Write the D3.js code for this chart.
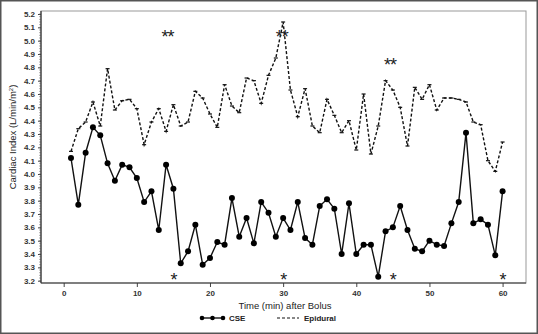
<!DOCTYPE html>
<html><head><meta charset="utf-8">
<script src="https://cdn.jsdelivr.net/npm/d3@7"></script>
<style>
html,body{margin:0;padding:0;background:#fff;}
svg{display:block;font-family:"Liberation Sans",Arial,sans-serif;}
</style></head>
<body>
<svg id="chart" width="538" height="334"></svg>
<script>
const times = d3.range(1, 61);
const cse = [4.12,3.77,4.16,4.35,4.29,4.08,3.95,4.07,4.05,3.97,
             3.79,3.87,3.58,4.07,3.89,3.33,3.42,3.62,3.32,3.37,
             3.49,3.47,3.82,3.53,3.67,3.48,3.79,3.71,3.53,3.67,
             3.58,3.79,3.52,3.47,3.76,3.81,3.74,3.40,3.78,3.40,
             3.47,3.47,3.23,3.57,3.60,3.76,3.58,3.44,3.42,3.50,
             3.47,3.46,3.63,3.79,4.31,3.63,3.66,3.62,3.39,3.87];
const epidural = [4.17,4.34,4.39,4.54,4.36,4.79,4.48,4.55,4.56,4.49,
                  4.22,4.39,4.49,4.32,4.52,4.36,4.39,4.62,4.57,4.45,
                  4.35,4.67,4.51,4.46,4.72,4.70,4.53,4.74,4.87,5.14,
                  4.63,4.43,4.64,4.36,4.31,4.56,4.44,4.31,4.40,4.18,
                  4.60,4.15,4.36,4.70,4.63,4.50,4.21,4.65,4.56,4.67,
                  4.48,4.57,4.57,4.56,4.54,4.39,4.37,4.10,4.02,4.24];
const xTicks = [0,10,20,30,40,50,60];
const yTicks = d3.range(32, 53).map(v => v / 10);
const sigLabels = ["**","**","**","*","*","*","*"];
const sigTimes = [14.2,29.8,44.6,15,30,45,60];
const sigValues = [5.055,5.055,4.845,3.235,3.235,3.235,3.235];
const seriesNames = ["CSE","Epidural"];

const svg = d3.select("#chart");
const W = 538, H = 334;
const m = {left:41, right:12, top:11, bottom:51};
const x = d3.scaleLinear().domain([-3.1, 63.2]).range([m.left, W - m.right]);
const y = d3.scaleLinear().domain([3.2, 5.2]).range([280.7, 14]);

// outer border
svg.append("rect").attr("x",0.75).attr("y",0.75).attr("width",W-1.5).attr("height",H-1.5)
  .attr("fill","#fff").attr("stroke","#555").attr("stroke-width",1.5);

// plot frame (light)
const bottomY = 283;
svg.append("rect").attr("x",m.left).attr("y",m.top).attr("width",W-m.right-m.left).attr("height",bottomY-m.top)
  .attr("fill","none").attr("stroke","#999").attr("stroke-width",1);

// y axis
const yAxis = d3.axisLeft(y).tickValues(yTicks).tickFormat(d3.format(".1f")).tickSize(3).tickPadding(3);
const gy = svg.append("g").attr("transform",`translate(${m.left},0)`).call(yAxis);
gy.select(".domain").remove();
gy.selectAll("text").attr("font-size",8).attr("font-weight","bold").attr("fill","#333");
gy.selectAll("line").attr("stroke","#444");
// minor ticks
const minor = d3.range(160, 261).map(v => v / 50);
svg.append("g").selectAll("line").data(minor).join("line")
  .attr("x1",m.left-2).attr("x2",m.left).attr("y1",d=>y(d)).attr("y2",d=>y(d))
  .attr("stroke","#777").attr("stroke-width",0.6);
svg.append("line").attr("x1",m.left).attr("x2",m.left).attr("y1",m.top).attr("y2",bottomY)
  .attr("stroke","#333").attr("stroke-width",1.2);

// x axis
const xAxis = d3.axisBottom(x).tickValues(xTicks).tickSize(4).tickPadding(3);
const gx = svg.append("g").attr("transform",`translate(0,${bottomY})`).call(xAxis);
gx.select(".domain").remove();
gx.selectAll("text").attr("font-size",8).attr("font-weight","bold").attr("fill","#333");
gx.selectAll("line").attr("stroke","#444");
svg.append("line").attr("x1",m.left).attr("x2",W-m.right).attr("y1",bottomY).attr("y2",bottomY)
  .attr("stroke","#333").attr("stroke-width",1.2);

// axis titles
svg.append("text").attr("x",285).attr("y",309).attr("text-anchor","middle")
  .attr("font-size",9.5).attr("fill","#222").text("Time (min) after Bolus");
svg.append("text").attr("transform","translate(16,137) rotate(-90)").attr("text-anchor","middle")
  .attr("font-size",9.5).attr("fill","#222")
  .html('Cardiac Index (L/min/m<tspan baseline-shift="super" font-size="6">2</tspan>)');

const line = d3.line().x((d,i)=>x(times[i])).y(d=>y(d));

// epidural
svg.append("path").datum(epidural).attr("d",line).attr("fill","none")
  .attr("stroke","#111").attr("stroke-width",1.4).attr("stroke-dasharray","3,2");
svg.append("g").selectAll("line").data(epidural).join("line")
  .attr("x1",(d,i)=>x(times[i])-2).attr("x2",(d,i)=>x(times[i])+2)
  .attr("y1",d=>y(d)).attr("y2",d=>y(d)).attr("stroke","#111").attr("stroke-width",1.2);

// CSE
svg.append("path").datum(cse).attr("d",line).attr("fill","none")
  .attr("stroke","#111").attr("stroke-width",1.4);
svg.append("g").selectAll("circle").data(cse).join("circle")
  .attr("cx",(d,i)=>x(times[i])).attr("cy",d=>y(d)).attr("r",3).attr("fill","#000");

// significance marks
svg.append("g").selectAll("text").data(sigLabels).join("text")
  .attr("x",(d,i)=>x(sigTimes[i])).attr("y",(d,i)=>y(sigValues[i])+10)
  .attr("text-anchor","middle").attr("font-size",18).attr("letter-spacing",-1)
  .attr("fill","#222").text(d=>d);

// legend
const lg = svg.append("g");
lg.append("line").attr("x1",201).attr("x2",224).attr("y1",318).attr("y2",318).attr("stroke","#111").attr("stroke-width",1.4);
lg.selectAll("circle").data([202,212.5,223]).join("circle").attr("cx",d=>d).attr("cy",318).attr("r",2.3).attr("fill","#000");
lg.append("text").attr("x",229).attr("y",321).attr("font-size",8).attr("font-weight","bold").attr("fill","#222").text(seriesNames[0]);
lg.append("line").attr("x1",277).attr("x2",299).attr("y1",318).attr("y2",318).attr("stroke","#111").attr("stroke-width",1.2).attr("stroke-dasharray","3,2");
lg.append("text").attr("x",304).attr("y",321).attr("font-size",8).attr("font-weight","bold").attr("fill","#222").text(seriesNames[1]);
</script>
</body></html>
